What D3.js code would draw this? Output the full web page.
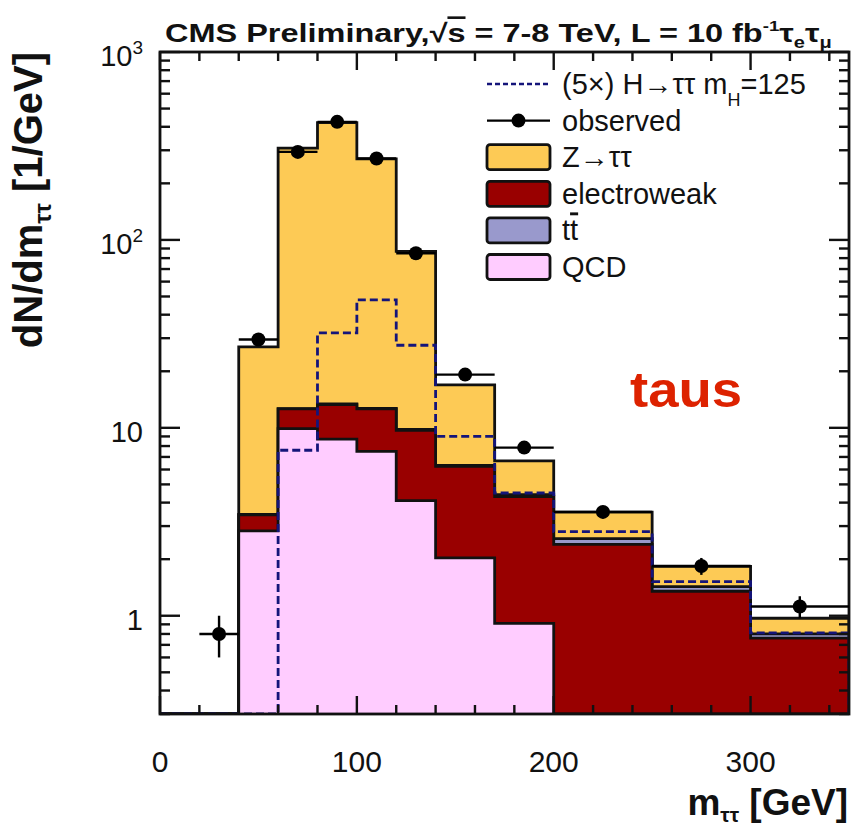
<!DOCTYPE html>
<html>
<head>
<meta charset="utf-8">
<script src="https://cdn.jsdelivr.net/npm/d3@7"></script>
<style>
  body { margin: 0; background: #fff; }
  svg { display: block; }
  text { font-family: "Liberation Sans", Arial, Helvetica, sans-serif; }
</style>
</head>
<body>
<svg id="chart" width="853" height="834"></svg>
<script>
// ---- data: m_tautau distribution, e-mu channel (dN/dm in 1/GeV) ----
const binEdges = [0, 20, 40, 60, 80, 100, 120, 140, 170, 200, 250, 300, 350];
const qcd      = [0, 0, 2.83, 9.9, 8.7, 7.5, 4.1, 2.03, 0.91, 0, 0, 0];
const ewk      = [0, 0, 0.61, 2.7, 4.6, 5.1, 5.6, 4.2, 3.4, 2.4, 1.35, 0.76];
const ttbar    = [0, 0, 0.02, 0.05, 0.1, 0.1, 0.1, 0.08, 0.1, 0.17, 0.08, 0.04];
const ztt      = [0, 0, 23.5, 295, 408, 257, 77, 10.6, 2.26, 0.99, 0.40, 0.17];
const higgs5x  = [0, 0, 0, 7.6, 32, 48, 27.5, 9.0, 4.5, 2.8, 1.52, 0.81];
const observed = [null, 0.80, 29.5, 294, 425, 271, 85, 19.2, 7.85, 3.57, 1.84, 1.12];
const obsError = [0, 0.2, 1.21, 3.8, 4.6, 3.7, 2.06, 0.8, 0.51, 0.27, 0.19, 0.15];

const xMajorTicks = [0, 100, 200, 300];
const yMajorTicks = [1, 10, 100, 1000];
const yTickLabels = [["1", ""], ["10", ""], ["10", "2"], ["10", "3"]];

const legendItems = [
  { key: "higgs", label: "(5×) H→ττ  m", sub: "H", tail: "=125" },
  { key: "obs", label: "observed" },
  { key: "ztt", label: "Z→ττ" },
  { key: "ewk", label: "electroweak" },
  { key: "tt", label: "tt" },
  { key: "qcd", label: "QCD" }
];

const colors = {
  ztt: "#fdca55",
  ewk: "#990000",
  tt: "#9999cc",
  qcd: "#ffccff",
  higgs: "#14147a"
};

// ---- layout ----
const svg = d3.select("#chart");
const plot = { left: 160, right: 849, top: 52, bottom: 714 };
const yMin = 0.3, yMax = 1000;

const x = d3.scaleLinear().domain([0, 350]).range([plot.left, plot.right]);
const y = d3.scaleLog().domain([yMin, yMax]).range([plot.bottom, plot.top]);

const yv = v => (v > yMin ? y(v) : y(yMin));

// cumulative stack: QCD, electroweak, ttbar, Z->tautau
const cumQcd = qcd.slice();
const cumEwk = cumQcd.map((v, i) => v + ewk[i]);
const cumTt  = cumEwk.map((v, i) => v + ttbar[i]);
const cumZtt = cumTt.map((v, i) => v + ztt[i]);

function stepPoints(vals) {
  const pts = [[binEdges[0], null]];
  vals.forEach((v, i) => {
    pts.push([binEdges[i], v]);
    pts.push([binEdges[i + 1], v]);
  });
  pts.push([binEdges[binEdges.length - 1], null]);
  return pts;
}

const stepLine = d3.line()
  .x(d => x(d[0]))
  .y(d => (d[1] === null ? y(yMin) : yv(d[1])));
const stepArea = d3.area()
  .x(d => x(d[0]))
  .y0(y(yMin))
  .y1(d => (d[1] === null ? y(yMin) : yv(d[1])));

svg.append("defs").append("clipPath").attr("id", "plotClip")
  .append("rect")
  .attr("x", plot.left).attr("y", plot.top)
  .attr("width", plot.right - plot.left).attr("height", plot.bottom - plot.top);

const g = svg.append("g").attr("clip-path", "url(#plotClip)");

const stack = [
  { vals: cumZtt, color: colors.ztt },
  { vals: cumTt, color: colors.tt },
  { vals: cumEwk, color: colors.ewk },
  { vals: cumQcd, color: colors.qcd }
];
stack.forEach(s => {
  const pts = stepPoints(s.vals);
  g.append("path").attr("d", stepArea(pts)).attr("fill", s.color);
  g.append("path").attr("d", stepLine(pts))
    .attr("fill", "none").attr("stroke", "#111").attr("stroke-width", 2.8)
    .attr("stroke-linejoin", "miter");
});

// signal (5x) as dashed outline
g.append("path").attr("d", stepLine(stepPoints(higgs5x)))
  .attr("fill", "none").attr("stroke", colors.higgs)
  .attr("stroke-width", 2.8).attr("stroke-dasharray", "8,4");

// ---- axes frame and ticks ----
const axes = svg.append("g");
const minorX = d3.range(0, 351, 20).filter(v => v % 100 !== 0);
const minorY = [];
[-1, 0, 1, 2].forEach(e => {
  for (let m = 2; m <= 9; m++) {
    const v = m * Math.pow(10, e);
    if (v > yMin && v < yMax) minorY.push(v);
  }
});

function tickLines(sel, vals, orient, len) {
  vals.forEach(v => {
    if (orient === "bottom") sel.append("line").attr("x1", x(v)).attr("x2", x(v)).attr("y1", plot.bottom).attr("y2", plot.bottom - len);
    if (orient === "top") sel.append("line").attr("x1", x(v)).attr("x2", x(v)).attr("y1", plot.top).attr("y2", plot.top + len);
    if (orient === "left") sel.append("line").attr("y1", y(v)).attr("y2", y(v)).attr("x1", plot.left).attr("x2", plot.left + len);
    if (orient === "right") sel.append("line").attr("y1", y(v)).attr("y2", y(v)).attr("x1", plot.right).attr("x2", plot.right - len);
  });
}
const tk = axes.append("g").attr("stroke", "#111").attr("stroke-width", 2.4);
tickLines(tk, xMajorTicks, "bottom", 18);
tickLines(tk, minorX, "bottom", 9);
tickLines(tk, xMajorTicks, "top", 18);
tickLines(tk, minorX, "top", 9);
tickLines(tk, yMajorTicks, "left", 20);
tickLines(tk, minorY, "left", 10);
tickLines(tk, yMajorTicks, "right", 20);
tickLines(tk, minorY, "right", 10);

axes.append("rect")
  .attr("x", plot.left).attr("y", plot.top)
  .attr("width", plot.right - plot.left).attr("height", plot.bottom - plot.top)
  .attr("fill", "none").attr("stroke", "#111").attr("stroke-width", 2.8);

// tick labels
xMajorTicks.forEach(v => {
  svg.append("text").attr("x", x(v)).attr("y", 772)
    .attr("text-anchor", "middle").attr("font-size", 30).attr("fill", "#111")
    .text(v);
});
yMajorTicks.forEach((v, i) => {
  const t = svg.append("text").attr("x", 143).attr("y", y(v) + 14)
    .attr("text-anchor", "end").attr("font-size", 29).attr("fill", "#111");
  t.append("tspan").text(yTickLabels[i][0]);
  if (yTickLabels[i][1]) {
    t.append("tspan").attr("font-size", 19).attr("dy", -12).text(yTickLabels[i][1]);
  }
});

// axis titles
const xTitle = svg.append("text").attr("x", 848).attr("y", 815)
  .attr("text-anchor", "end").attr("font-weight", "bold").attr("font-size", 37).attr("fill", "#111");
xTitle.append("tspan").text("m");
xTitle.append("tspan").attr("font-size", 21).attr("dy", 7).text("ττ");
xTitle.append("tspan").attr("dy", -7).text(" [GeV]");

const yTitle = svg.append("text")
  .attr("transform", "translate(42,52) rotate(-90)")
  .attr("text-anchor", "end").attr("font-weight", "bold").attr("font-size", 40).attr("fill", "#111");
yTitle.append("tspan").text("dN/dm");
yTitle.append("tspan").attr("font-size", 23).attr("dy", 9).text("ττ");
yTitle.append("tspan").attr("dy", -9).text(" [1/GeV]");

// title line
const title = svg.append("text").attr("x", 0).attr("y", 0)
  .attr("font-weight", "bold").attr("font-size", 26).attr("fill", "#111");
title.append("tspan").text("CMS Preliminary,");
title.append("tspan").text("√");
title.append("tspan").style("text-decoration", "overline").text("s");
title.append("tspan").text(" = 7-8 TeV, L = 10 fb");
title.append("tspan").attr("font-size", 15).attr("dy", -11).text("-1");
title.append("tspan").attr("dy", 11).text("τ");
title.append("tspan").attr("font-size", 16).attr("dy", 6).text("e");
title.append("tspan").attr("dy", -6).text("τ");
title.append("tspan").attr("font-size", 16).attr("dy", 6).text("μ");
{
  const w = title.node().getComputedTextLength();
  const target = 832 - 165;
  title.attr("transform", `translate(165,42) scale(${target / w},1)`);
}

// "taus" tag
svg.append("text").attr("x", 630).attr("y", 407)
  .attr("font-weight", "bold").attr("font-size", 50).attr("fill", "#dd2200")
  .attr("textLength", 112).attr("lengthAdjust", "spacingAndGlyphs")
  .text("taus");

// ---- observed data ----
const obs = svg.append("g");
observed.forEach((v, i) => {
  if (v === null) return;
  const cx = x((binEdges[i] + binEdges[i + 1]) / 2);
  const cy = y(v);
  obs.append("line").attr("x1", x(binEdges[i])).attr("x2", x(binEdges[i + 1]))
    .attr("y1", cy).attr("y2", cy).attr("stroke", "#000").attr("stroke-width", 2.4);
  obs.append("line").attr("x1", cx).attr("x2", cx)
    .attr("y1", y(v + obsError[i])).attr("y2", y(Math.max(v - obsError[i], yMin)))
    .attr("stroke", "#000").attr("stroke-width", 2.4);
  obs.append("circle").attr("cx", cx).attr("cy", cy).attr("r", 7).attr("fill", "#000");
});

// ---- legend ----
const leg = svg.append("g");
const legX0 = 487, legX1 = 550, legTextX = 562;
legendItems.forEach((it, i) => {
  const cy = 84 + i * 36.6;
  if (it.key === "higgs") {
    leg.append("line").attr("x1", legX0).attr("x2", legX1).attr("y1", cy).attr("y2", cy)
      .attr("stroke", colors.higgs).attr("stroke-width", 2.6).attr("stroke-dasharray", "5,3");
  } else if (it.key === "obs") {
    leg.append("line").attr("x1", legX0).attr("x2", legX1).attr("y1", cy).attr("y2", cy)
      .attr("stroke", "#000").attr("stroke-width", 2.4);
    leg.append("circle").attr("cx", (legX0 + legX1) / 2).attr("cy", cy).attr("r", 7).attr("fill", "#000");
  } else {
    leg.append("rect").attr("x", legX0).attr("y", cy - 12.5).attr("width", legX1 - legX0).attr("height", 25)
      .attr("rx", 3).attr("fill", colors[it.key]).attr("stroke", "#111").attr("stroke-width", 2.8);
  }
  const t = leg.append("text").attr("x", legTextX).attr("y", cy + 10)
    .attr("font-size", 29).attr("fill", "#111");
  if (it.key === "tt") {
    t.append("tspan").text("t");
    t.append("tspan").style("text-decoration", "overline").text("t");
  } else {
    t.append("tspan").text(it.label);
    if (it.sub) {
      t.append("tspan").attr("font-size", 18).attr("dy", 12).text(it.sub);
      t.append("tspan").attr("dy", -12).text(it.tail);
    }
  }
});
</script>
</body>
</html>
